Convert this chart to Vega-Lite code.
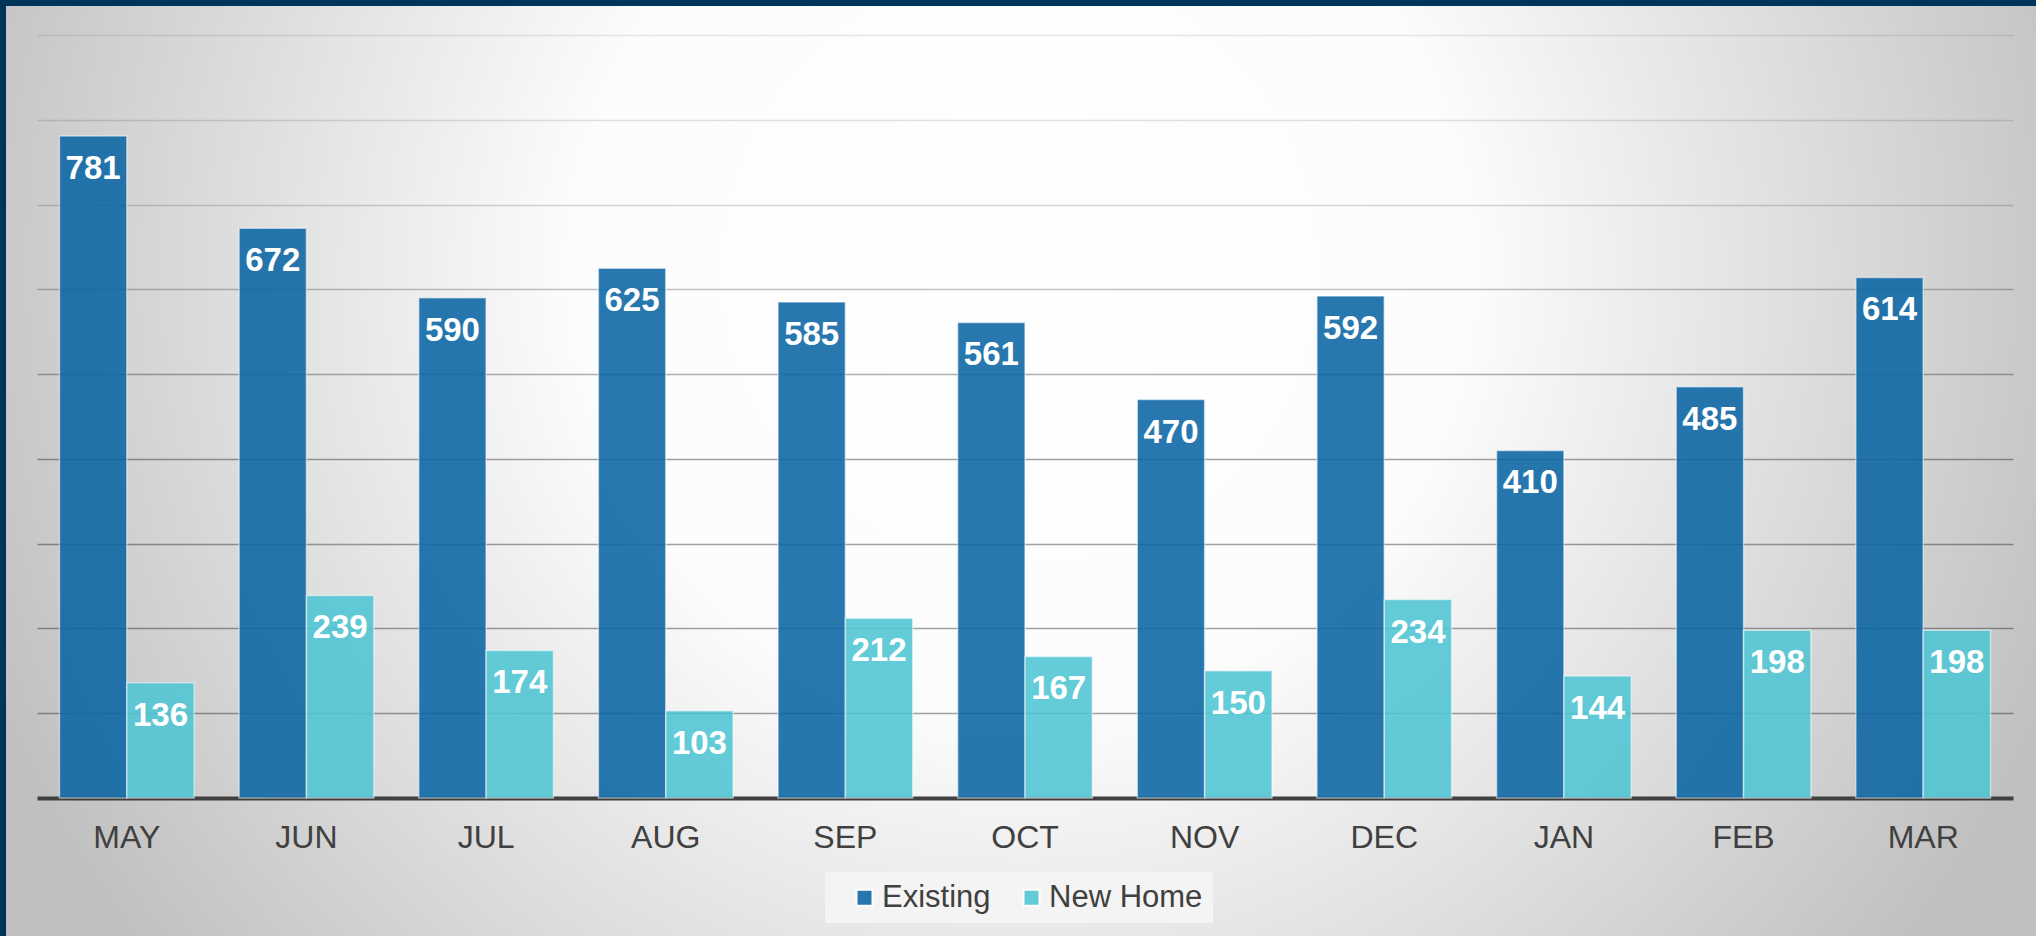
{
  "$schema": "https://vega.github.io/schema/vega-lite/v6.json",
  "width": 2030,
  "height": 930,
  "autosize": {"type": "none"},
  "padding": {"left": 6, "top": 6, "right": 0, "bottom": 0},
  "background": "#00355A",
  "data": {
    "values": [
      {"month": "MAY", "series": "Existing", "value": 781},
      {"month": "MAY", "series": "New Home", "value": 136},
      {"month": "JUN", "series": "Existing", "value": 672},
      {"month": "JUN", "series": "New Home", "value": 239},
      {"month": "JUL", "series": "Existing", "value": 590},
      {"month": "JUL", "series": "New Home", "value": 174},
      {"month": "AUG", "series": "Existing", "value": 625},
      {"month": "AUG", "series": "New Home", "value": 103},
      {"month": "SEP", "series": "Existing", "value": 585},
      {"month": "SEP", "series": "New Home", "value": 212},
      {"month": "OCT", "series": "Existing", "value": 561},
      {"month": "OCT", "series": "New Home", "value": 167},
      {"month": "NOV", "series": "Existing", "value": 470},
      {"month": "NOV", "series": "New Home", "value": 150},
      {"month": "DEC", "series": "Existing", "value": 592},
      {"month": "DEC", "series": "New Home", "value": 234},
      {"month": "JAN", "series": "Existing", "value": 410},
      {"month": "JAN", "series": "New Home", "value": 144},
      {"month": "FEB", "series": "Existing", "value": 485},
      {"month": "FEB", "series": "New Home", "value": 198},
      {"month": "MAR", "series": "Existing", "value": 614},
      {"month": "MAR", "series": "New Home", "value": 198}
    ]
  },
  "encoding": {
    "x": {
      "field": "month",
      "type": "nominal",
      "sort": ["MAY", "JUN", "JUL", "AUG", "SEP", "OCT", "NOV", "DEC", "JAN", "FEB", "MAR"],
      "scale": {"range": [31, 2007], "paddingInner": 0.25, "paddingOuter": 0.125},
      "title": null,
      "axis": {
        "orient": "bottom",
        "offset": -138,
        "domainColor": "#404040",
        "domainWidth": 4,
        "ticks": false,
        "tickSize": 0,
        "labelFontSize": 32,
        "labelColor": "#404040",
        "labelPadding": 24,
        "labelAngle": 0,
        "grid": false
      }
    },
    "xOffset": {
      "field": "series",
      "type": "nominal",
      "sort": ["Existing", "New Home"],
      "scale": {"paddingInner": 0, "paddingOuter": 0}
    },
    "y": {
      "field": "value",
      "type": "quantitative",
      "scale": {"domain": [0, 900], "range": [792, 29], "nice": false, "zero": true},
      "title": null,
      "axis": {
        "orient": "left",
        "domain": false,
        "ticks": false,
        "labels": false,
        "grid": true,
        "values": [100, 200, 300, 400, 500, 600, 700, 800, 900],
        "gridColor": "#000000",
        "gridWidth": 1.5,
        "gridOpacity": {
          "condition": [
            {"test": "datum.value >= 900", "value": 0.09},
            {"test": "datum.value >= 800", "value": 0.12},
            {"test": "datum.value >= 700", "value": 0.16},
            {"test": "datum.value >= 600", "value": 0.24},
            {"test": "datum.value >= 500", "value": 0.31}
          ],
          "value": 0.36
        }
      }
    }
  },
  "layer": [
    {
      "mark": {"type": "bar", "opacity": 0.88, "stroke": "#ffffff", "strokeOpacity": 0.55, "strokeWidth": 1.5},
      "encoding": {
        "color": {
          "field": "series",
          "type": "nominal",
          "sort": ["Existing", "New Home"],
          "scale": {"domain": ["Existing", "New Home"], "range": ["#0B66A5", "#4FC6D4"]},
          "legend": {
            "orient": "none",
            "legendX": 819,
            "legendY": 866,
            "direction": "horizontal",
            "title": null,
            "fillColor": "#f4f4f4",
            "padding": 10,
            "labelFontSize": 31,
            "labelColor": "#404040",
            "symbolType": "square",
            "symbolSize": 256,
            "symbolStrokeColor": "#ffffff",
            "symbolStrokeWidth": 2,
            "symbolOffset": 14,
            "columnPadding": 11,
            "labelOffset": 2
          }
        }
      }
    },
    {
      "mark": {"type": "text", "baseline": "alphabetic", "dy": 43, "fontSize": 33, "fontWeight": "bold", "fill": "#ffffff"},
      "encoding": {"text": {"field": "value", "type": "quantitative"}}
    }
  ],
  "config": {
    "font": "Liberation Sans",
    "view": {
      "stroke": null,
      "fill": {
        "gradient": "radial",
        "x1": 0.5, "y1": 0.4, "r1": 0,
        "x2": 0.5, "y2": 0.4, "r2": 0.55,
        "stops": [
          {"offset": 0, "color": "#ffffff"},
          {"offset": 0.4, "color": "#fcfcfc"},
          {"offset": 1, "color": "#c0c0c0"}
        ]
      }
    }
  }
}
